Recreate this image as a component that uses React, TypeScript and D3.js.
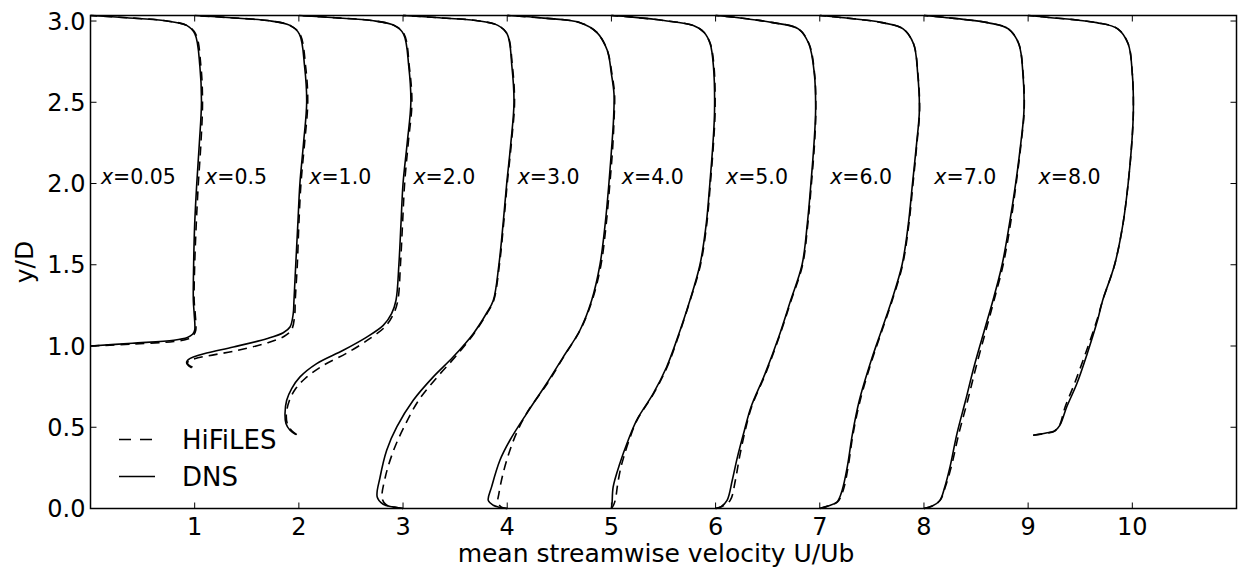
import React from "react";
import * as d3 from "d3";

// streamwise stations (x/h) and the offset each profile gets on the plot
const stations = ["0.05", "0.5", "1.0", "2.0", "3.0", "4.0", "5.0", "6.0", "7.0", "8.0"];
const xTicks = [1, 2, 3, 4, 5, 6, 7, 8, 9, 10];
const yTicks = [0, 0.5, 1.0, 1.5, 2.0, 2.5, 3.0];

// DNS profiles: [U/Ub, y/D]
const dns: number[][][] = [
  [[0, 1.0], [0.4, 1.017], [0.8, 1.035], [0.93, 1.052], [0.98, 1.072], [1.0, 1.097], [0.995, 1.2], [0.987, 1.28], [0.99, 1.5], [1.0, 1.75], [1.02, 2.0], [1.045, 2.25], [1.065, 2.5], [1.05, 2.72], [1.003, 2.92], [0.923, 2.973], [0.7, 3.003], [0.35, 3.02], [0, 3.034]],
  [[-0.029, 0.865], [-0.071, 0.887], [-0.077, 0.902], [-0.061, 0.916], [-0.013, 0.932], [0.115, 0.957], [0.371, 0.994], [0.691, 1.045], [0.85, 1.082], [0.915, 1.117], [0.946, 1.199], [0.953, 1.28], [0.97, 1.5], [0.99, 1.75], [1.01, 2.0], [1.045, 2.25], [1.075, 2.5], [1.055, 2.72], [1.005, 2.92], [0.915, 2.973], [0.7, 3.003], [0.35, 3.02], [0, 3.034]],
  [[-0.028, 0.455], [-0.085, 0.482], [-0.124, 0.523], [-0.133, 0.584], [-0.117, 0.666], [-0.069, 0.738], [0.011, 0.81], [0.171, 0.892], [0.426, 0.974], [0.651, 1.055], [0.81, 1.127], [0.89, 1.199], [0.932, 1.28], [0.96, 1.5], [0.98, 1.75], [1.0, 2.0], [1.04, 2.25], [1.075, 2.5], [1.055, 2.72], [1.005, 2.92], [0.915, 2.973], [0.7, 3.003], [0.35, 3.02], [0, 3.034]],
  [[0, 0], [-0.1, 0.01], [-0.19, 0.026], [-0.248, 0.071], [-0.22, 0.194], [-0.157, 0.359], [-0.06, 0.502], [0.098, 0.666], [0.29, 0.81], [0.48, 0.932], [0.674, 1.076], [0.8, 1.2], [0.866, 1.28], [0.92, 1.5], [0.96, 1.75], [0.995, 2.0], [1.035, 2.25], [1.065, 2.5], [1.045, 2.72], [1.0, 2.92], [0.91, 2.973], [0.7, 3.003], [0.35, 3.02], [0, 3.034]],
  [[0, 0], [-0.08, 0.008], [-0.134, 0.02], [-0.182, 0.05], [-0.15, 0.133], [-0.07, 0.297], [0.026, 0.42], [0.186, 0.584], [0.378, 0.769], [0.537, 0.932], [0.698, 1.097], [0.81, 1.28], [0.89, 1.5], [0.94, 1.75], [0.976, 2.0], [1.0, 2.2], [1.02, 2.39], [1.025, 2.55], [1.0, 2.675], [0.96, 2.82], [0.86, 2.93], [0.7, 2.99], [0.35, 3.018], [0, 3.034]],
  [[0, 0], [0.006, 0.03], [0.017, 0.133], [0.081, 0.277], [0.161, 0.42], [0.242, 0.543], [0.401, 0.707], [0.53, 0.871], [0.626, 1.035], [0.753, 1.28], [0.85, 1.5], [0.91, 1.75], [0.945, 2.0], [0.975, 2.25], [0.99, 2.45], [0.98, 2.716], [0.948, 2.86], [0.888, 2.931], [0.786, 2.972], [0.504, 3.003], [0.2, 3.024], [0, 3.034]],
  [[0, 0], [0.05, 0.01], [0.11, 0.05], [0.16, 0.174], [0.21, 0.318], [0.277, 0.482], [0.34, 0.625], [0.475, 0.83], [0.606, 1.055], [0.72, 1.28], [0.83, 1.5], [0.88, 1.75], [0.915, 2.0], [0.945, 2.25], [0.96, 2.45], [0.948, 2.675], [0.895, 2.86], [0.794, 2.952], [0.55, 2.99], [0.2, 3.022], [0, 3.034]],
  [[0, 0], [0.08, 0.015], [0.165, 0.04], [0.215, 0.113], [0.264, 0.256], [0.314, 0.461], [0.38, 0.666], [0.494, 0.912], [0.593, 1.097], [0.69, 1.28], [0.79, 1.5], [0.85, 1.75], [0.89, 2.0], [0.93, 2.25], [0.956, 2.45], [0.94, 2.675], [0.9, 2.86], [0.8, 2.952], [0.6, 2.99], [0.2, 3.022], [0, 3.034]],
  [[0, 0], [0.08, 0.015], [0.153, 0.05], [0.2, 0.133], [0.25, 0.256], [0.317, 0.461], [0.4, 0.666], [0.48, 0.871], [0.58, 1.097], [0.662, 1.28], [0.75, 1.5], [0.82, 1.75], [0.88, 2.0], [0.93, 2.25], [0.96, 2.45], [0.95, 2.675], [0.91, 2.86], [0.81, 2.952], [0.61, 2.99], [0.2, 3.022], [0, 3.034]],
  [[0.047, 0.451], [0.172, 0.465], [0.254, 0.477], [0.304, 0.512], [0.37, 0.625], [0.468, 0.769], [0.567, 0.953], [0.666, 1.158], [0.715, 1.28], [0.83, 1.5], [0.91, 1.75], [0.96, 2.0], [0.995, 2.25], [1.01, 2.45], [1.0, 2.675], [0.96, 2.86], [0.86, 2.952], [0.657, 2.99], [0.2, 3.022], [0, 3.034]],
];

// HiFiLES profiles: [U/Ub, y/D]
const hifiles: number[][][] = [
  [[0, 1.0], [0.4, 1.012], [0.8, 1.028], [0.94, 1.045], [0.99, 1.068], [1.01, 1.097], [1.005, 1.2], [0.995, 1.28], [1.0, 1.5], [1.015, 1.75], [1.035, 2.0], [1.06, 2.25], [1.075, 2.5], [1.06, 2.72], [1.01, 2.92], [0.925, 2.973], [0.7, 3.003], [0.35, 3.02], [0, 3.034]],
  [[-0.02, 0.87], [-0.06, 0.885], [-0.07, 0.897], [-0.05, 0.91], [0.0, 0.922], [0.13, 0.94], [0.39, 0.97], [0.7, 1.02], [0.86, 1.06], [0.93, 1.1], [0.96, 1.19], [0.965, 1.28], [0.985, 1.5], [1.0, 1.75], [1.02, 2.0], [1.055, 2.25], [1.085, 2.5], [1.065, 2.72], [1.01, 2.92], [0.915, 2.973], [0.7, 3.003], [0.35, 3.02], [0, 3.034]],
  [[-0.02, 0.455], [-0.07, 0.48], [-0.11, 0.52], [-0.12, 0.584], [-0.09, 0.666], [-0.03, 0.738], [0.06, 0.8], [0.22, 0.875], [0.47, 0.96], [0.68, 1.045], [0.83, 1.12], [0.91, 1.199], [0.95, 1.28], [0.975, 1.5], [0.995, 1.75], [1.015, 2.0], [1.05, 2.25], [1.085, 2.5], [1.06, 2.72], [1.01, 2.92], [0.915, 2.973], [0.7, 3.003], [0.35, 3.02], [0, 3.034]],
  [[0, 0], [-0.08, 0.008], [-0.16, 0.022], [-0.2, 0.06], [-0.17, 0.194], [-0.09, 0.359], [0.01, 0.502], [0.15, 0.666], [0.33, 0.81], [0.5, 0.932], [0.68, 1.076], [0.805, 1.2], [0.87, 1.28], [0.925, 1.5], [0.965, 1.75], [1.0, 2.0], [1.04, 2.25], [1.07, 2.5], [1.05, 2.72], [1.0, 2.92], [0.91, 2.973], [0.7, 3.003], [0.35, 3.02], [0, 3.034]],
  [[0, 0], [-0.06, 0.01], [-0.09, 0.04], [-0.08, 0.092], [-0.04, 0.215], [0.026, 0.359], [0.1, 0.48], [0.2, 0.6], [0.385, 0.769], [0.54, 0.932], [0.7, 1.097], [0.815, 1.28], [0.9, 1.5], [0.95, 1.75], [0.985, 2.0], [1.01, 2.2], [1.025, 2.39], [1.03, 2.55], [1.005, 2.675], [0.96, 2.82], [0.86, 2.93], [0.7, 2.99], [0.35, 3.018], [0, 3.034]],
  [[0, 0], [0.02, 0.02], [0.04, 0.06], [0.06, 0.15], [0.09, 0.25], [0.12, 0.32], [0.17, 0.42], [0.245, 0.543], [0.405, 0.707], [0.535, 0.871], [0.63, 1.035], [0.755, 1.28], [0.855, 1.5], [0.915, 1.75], [0.95, 2.0], [0.98, 2.25], [0.995, 2.45], [0.985, 2.716], [0.95, 2.86], [0.888, 2.931], [0.786, 2.972], [0.504, 3.003], [0.2, 3.024], [0, 3.034]],
  [[0, 0], [0.06, 0.012], [0.14, 0.05], [0.19, 0.174], [0.23, 0.318], [0.285, 0.482], [0.345, 0.625], [0.48, 0.83], [0.61, 1.055], [0.725, 1.28], [0.835, 1.5], [0.885, 1.75], [0.92, 2.0], [0.95, 2.25], [0.962, 2.45], [0.95, 2.675], [0.897, 2.86], [0.794, 2.952], [0.55, 2.99], [0.2, 3.022], [0, 3.034]],
  [[0, 0], [0.08, 0.015], [0.17, 0.04], [0.225, 0.113], [0.272, 0.256], [0.32, 0.461], [0.388, 0.666], [0.5, 0.912], [0.598, 1.097], [0.695, 1.28], [0.795, 1.5], [0.855, 1.75], [0.895, 2.0], [0.933, 2.25], [0.958, 2.45], [0.942, 2.675], [0.9, 2.86], [0.8, 2.952], [0.6, 2.99], [0.2, 3.022], [0, 3.034]],
  [[0, 0], [0.08, 0.015], [0.155, 0.05], [0.205, 0.133], [0.262, 0.256], [0.335, 0.461], [0.42, 0.666], [0.5, 0.871], [0.595, 1.097], [0.672, 1.28], [0.76, 1.5], [0.83, 1.75], [0.885, 2.0], [0.933, 2.25], [0.962, 2.45], [0.952, 2.675], [0.91, 2.86], [0.81, 2.952], [0.61, 2.99], [0.2, 3.022], [0, 3.034]],
  [[0.05, 0.451], [0.17, 0.463], [0.25, 0.475], [0.3, 0.51], [0.355, 0.625], [0.445, 0.769], [0.55, 0.953], [0.66, 1.158], [0.715, 1.28], [0.83, 1.5], [0.91, 1.75], [0.96, 2.0], [0.995, 2.25], [1.01, 2.45], [1.0, 2.675], [0.96, 2.86], [0.86, 2.952], [0.657, 2.99], [0.2, 3.022], [0, 3.034]],
];

const W = 1238;
const H = 568;
const font = "'DejaVu Sans', sans-serif";

export default function App() {
  const x = d3.scaleLinear().domain([0, 11]).range([90.5, 1236.5]);
  const y = d3.scaleLinear().domain([0, 3.034]).range([508.5, 15.5]);

  const lineFor = (offset: number) =>
    d3.line<number[]>()
      .x(d => x(d[0] + offset))
      .y(d => y(d[1]))
      .curve(d3.curveCatmullRom.alpha(0.5));

  const [x0, x1] = x.range();
  const [yb, yt] = y.range();
  const tick = 6;

  return (
    <svg width={W} height={H} style={{ position: "absolute", left: 0, top: 0, display: "block", background: "#fff" }}>
      {/* profiles */}
      <g fill="none" stroke="#000" strokeWidth={1.6}>
        {hifiles.map((p, i) => (
          <path key={"h" + i} d={lineFor(i)(p) || ""} strokeDasharray="9,6" />
        ))}
        {dns.map((p, i) => (
          <path key={"d" + i} d={lineFor(i)(p) || ""} />
        ))}
      </g>

      {/* station labels */}
      {stations.map((s, i) => (
        <text key={s} x={x(i + 0.1)} y={y(2.0)} fontFamily={font} fontSize={20.5}>
          <tspan fontStyle="italic">x</tspan>={s}
        </text>
      ))}

      {/* frame */}
      <rect x={x0} y={yt} width={x1 - x0} height={yb - yt} fill="none" stroke="#000" strokeWidth={1.5} />

      {/* x ticks */}
      {xTicks.map(t => (
        <g key={"xt" + t}>
          <line x1={x(t)} x2={x(t)} y1={yb} y2={yb - tick} stroke="#000" strokeWidth={1} />
          <line x1={x(t)} x2={x(t)} y1={yt} y2={yt + tick} stroke="#000" strokeWidth={1} />
          <text x={x(t)} y={yb + 26.5} textAnchor="middle" fontFamily={font} fontSize={24}>{t}</text>
        </g>
      ))}

      {/* y ticks */}
      {yTicks.map(t => (
        <g key={"yt" + t}>
          <line x1={x0} x2={x0 + tick} y1={y(t)} y2={y(t)} stroke="#000" strokeWidth={1} />
          <line x1={x1} x2={x1 - tick} y1={y(t)} y2={y(t)} stroke="#000" strokeWidth={1} />
          <text x={x0 - 5} y={y(t)} dy="0.36em" textAnchor="end" fontFamily={font} fontSize={24}>{t.toFixed(1)}</text>
        </g>
      ))}

      {/* axis labels */}
      <text x={656} y={562} textAnchor="middle" fontFamily={font} fontSize={25}>mean streamwise velocity U/Ub</text>
      <text transform={`translate(33,${(yb + yt) / 2}) rotate(-90)`} textAnchor="middle" fontFamily={font} fontSize={25}>y/D</text>

      {/* legend */}
      <g fontFamily={font} fontSize={26}>
        <line x1={119} x2={155} y1={439.5} y2={439.5} stroke="#000" strokeWidth={1.6} strokeDasharray="12,9" />
        <text x={182} y={448.5}>HiFiLES</text>
        <line x1={119} x2={155} y1={476.5} y2={476.5} stroke="#000" strokeWidth={1.6} />
        <text x={182} y={485.5}>DNS</text>
      </g>
    </svg>
  );
}
